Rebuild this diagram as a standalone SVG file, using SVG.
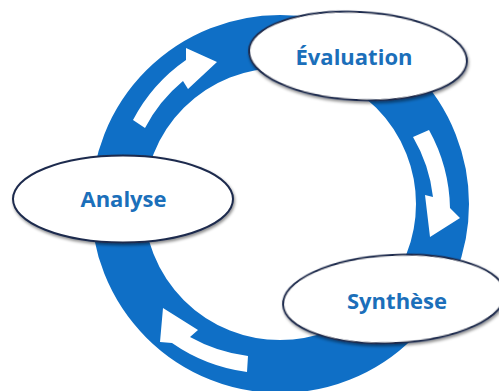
<svg xmlns="http://www.w3.org/2000/svg" width="499" height="391" viewBox="0 0 499 391">
  <defs>
    <filter id="sh" x="-10%" y="-20%" width="120%" height="150%">
      <feDropShadow dx="1" dy="2" stdDeviation="1.5" flood-color="#000" flood-opacity="0.45"/>
    </filter>
  </defs>
  <style>
    .ring { fill: none; stroke: #0f6fc6; stroke-width: 53; }
    .arrow { fill: #ffffff; stroke: none; }
    .node ellipse { fill: #ffffff; stroke: #1e2b4d; stroke-width: 2; filter: url(#sh); }
    .node text { font-family: "Open Sans", "Liberation Sans", sans-serif; font-weight: bold; font-size: 22px; fill: #1b6fba; text-anchor: middle; }
  </style>
  <rect width="499" height="391" fill="#ffffff"/>
  <g id="connectors">
    <circle class="ring" cx="280" cy="204" r="162.5"/>
    <path class="arrow" d="M 133,120 A 168 168 0 0 1 186,60 L 186,48 L 217,62 L 188,89 L 183,81 A 152 152 0 0 0 145,128 Z"/>
    <path class="arrow" d="M 429,130 A 168 168 0 0 1 450,208 L 460,218 L 430,237 L 425,195 L 433,197 A 151 151 0 0 0 413,137 Z"/>
    <path class="arrow" d="M 247,372 A 170 170 0 0 1 172,343 L 160,342 L 163,308 L 198,330 L 190,337 A 158 158 0 0 0 248,356 Z"/>
  </g>
  <g id="node-evaluation" class="node">
    <ellipse cx="358" cy="56" rx="109" ry="44" transform="rotate(3 358 56)"/>
    <text x="354" y="65">Évaluation</text>
  </g>
  <g id="node-analyse" class="node">
    <ellipse cx="123" cy="199" rx="110" ry="43.5"/>
    <text x="123.5" y="207">Analyse</text>
  </g>
  <g id="node-synthese" class="node">
    <ellipse cx="394" cy="299" rx="111" ry="44" transform="rotate(-3 394 299)"/>
    <text x="397" y="309">Synthèse</text>
  </g>
</svg>
